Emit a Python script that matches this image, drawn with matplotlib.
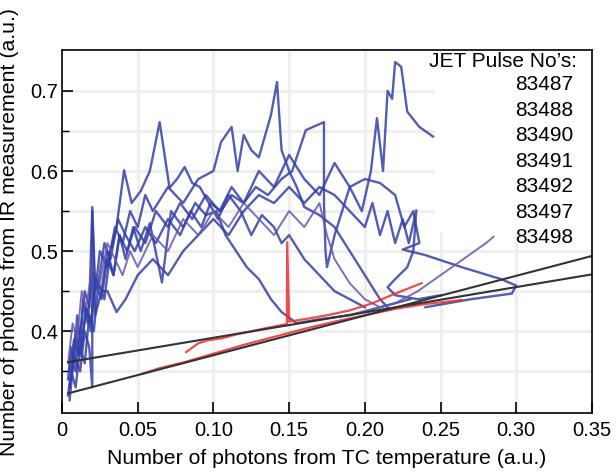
import matplotlib
matplotlib.use("Agg")
from matplotlib import pyplot as plt
from matplotlib.patches import Rectangle
from matplotlib.ticker import FixedLocator

plt.rcParams['font.family'] = ['Liberation Sans', 'DejaVu Sans']

# pulse numbers shown in the key
pulses = ["83487", "83488", "83490", "83491", "83492", "83497", "83498"]

# blue traces (IR vs TC)
t1_x = [0.005, 0.007, 0.009, 0.011, 0.013, 0.016, 0.019, 0.022, 0.026, 0.030, 0.034, 0.038,
        0.043, 0.048, 0.055, 0.062, 0.070, 0.078, 0.086, 0.095, 0.104, 0.112, 0.120, 0.130,
        0.140, 0.150, 0.160, 0.170, 0.180, 0.190, 0.198, 0.204, 0.208, 0.212, 0.215, 0.218,
        0.220, 0.224, 0.228, 0.236, 0.245]
t1_y = [0.33, 0.36, 0.35, 0.40, 0.38, 0.43, 0.41, 0.46, 0.44, 0.49, 0.47, 0.52,
        0.50, 0.53, 0.51, 0.55, 0.53, 0.56, 0.54, 0.57, 0.55, 0.58, 0.56, 0.60,
        0.58, 0.62, 0.59, 0.57, 0.61, 0.58, 0.55, 0.60, 0.666, 0.60, 0.70, 0.69,
        0.736, 0.73, 0.674, 0.655, 0.643]

t2_x = [0.004, 0.006, 0.008, 0.010, 0.012, 0.015, 0.018, 0.020, 0.022, 0.025, 0.030, 0.035,
        0.040, 0.045, 0.050, 0.055, 0.060, 0.070, 0.080, 0.090, 0.100, 0.105, 0.112, 0.116,
        0.120, 0.125, 0.130, 0.138, 0.142, 0.145, 0.150, 0.155, 0.160, 0.170, 0.180, 0.190,
        0.200, 0.210, 0.215]
t2_y = [0.34, 0.38, 0.36, 0.42, 0.39, 0.45, 0.43, 0.555, 0.45, 0.50, 0.48, 0.53,
        0.51, 0.55, 0.53, 0.57, 0.55, 0.58, 0.56, 0.59, 0.60, 0.636, 0.655, 0.60,
        0.645, 0.626, 0.617, 0.67, 0.711, 0.626, 0.60, 0.58, 0.555, 0.545, 0.53, 0.50,
        0.47, 0.44, 0.43]

t3_x = [0.004, 0.006, 0.009, 0.012, 0.015, 0.018, 0.021, 0.024, 0.028, 0.032, 0.036, 0.041,
        0.046, 0.052, 0.058, 0.0645, 0.071, 0.076, 0.081, 0.086, 0.091, 0.097, 0.103, 0.110,
        0.118, 0.125, 0.132, 0.140, 0.145, 0.150, 0.160, 0.170, 0.180, 0.190, 0.200]
t3_y = [0.32, 0.35, 0.33, 0.38, 0.36, 0.42, 0.40, 0.46, 0.44, 0.50, 0.53, 0.601,
        0.56, 0.575, 0.60, 0.661, 0.579, 0.59, 0.605, 0.585, 0.58, 0.56, 0.54, 0.57,
        0.55, 0.52, 0.545, 0.53, 0.51, 0.52, 0.49, 0.47, 0.45, 0.44, 0.43]

t4_x = [0.005, 0.008, 0.011, 0.014, 0.017, 0.020, 0.024, 0.028, 0.032, 0.037, 0.042, 0.048,
        0.055, 0.062, 0.070, 0.078, 0.085, 0.092, 0.098, 0.105, 0.112, 0.120, 0.128, 0.136,
        0.145, 0.152, 0.161, 0.173, 0.173, 0.174, 0.175, 0.180, 0.185, 0.190, 0.200, 0.210,
        0.220, 0.226, 0.232, 0.236, 0.225, 0.240, 0.264, 0.290, 0.300, 0.297, 0.270, 0.240]
t4_y = [0.35, 0.39, 0.37, 0.44, 0.41, 0.48, 0.46, 0.51, 0.49, 0.54, 0.52, 0.50,
        0.53, 0.51, 0.54, 0.52, 0.55, 0.53, 0.56, 0.55, 0.57, 0.56, 0.58, 0.57,
        0.59, 0.60, 0.651, 0.661, 0.56, 0.50, 0.48, 0.52, 0.55, 0.58, 0.59, 0.585,
        0.57, 0.53, 0.55, 0.51, 0.502, 0.495, 0.48, 0.465, 0.457, 0.447, 0.44, 0.43]

t5_x = [0.006, 0.009, 0.012, 0.016, 0.019, 0.022, 0.026, 0.030, 0.034, 0.038, 0.042, 0.047,
        0.052, 0.058, 0.066, 0.072, 0.080, 0.088, 0.095, 0.102, 0.108, 0.115, 0.122, 0.130,
        0.138, 0.145, 0.155, 0.170, 0.190, 0.210, 0.230]
t5_y = [0.34, 0.40, 0.37, 0.43, 0.40, 0.47, 0.45, 0.50, 0.47, 0.52, 0.49, 0.53,
        0.50, 0.535, 0.461, 0.55, 0.53, 0.56, 0.545, 0.55, 0.52, 0.50, 0.48, 0.465,
        0.44, 0.424, 0.41, 0.415, 0.42, 0.43, 0.44]

t6_x = [0.004, 0.007, 0.010, 0.013, 0.016, 0.020, 0.025, 0.030, 0.035, 0.040, 0.045, 0.050,
        0.060, 0.070, 0.080, 0.090, 0.100, 0.110, 0.120, 0.130, 0.140, 0.150, 0.160, 0.170,
        0.175, 0.180, 0.190, 0.200, 0.210, 0.220, 0.235, 0.250, 0.265, 0.280, 0.285]
t6_y = [0.36, 0.41, 0.39, 0.45, 0.43, 0.48, 0.46, 0.51, 0.49, 0.47, 0.50, 0.48,
        0.52, 0.50, 0.54, 0.52, 0.55, 0.53, 0.56, 0.54, 0.52, 0.55, 0.53, 0.56,
        0.52, 0.49, 0.46, 0.44, 0.43, 0.435, 0.45, 0.47, 0.49, 0.51, 0.518]

t7_x = [0.005, 0.008, 0.012, 0.015, 0.018, 0.020, 0.020, 0.022, 0.026, 0.030, 0.036, 0.042,
        0.050, 0.060, 0.070, 0.080, 0.090, 0.100, 0.110, 0.120, 0.130, 0.140, 0.150, 0.160,
        0.170, 0.180, 0.190, 0.200, 0.205, 0.210, 0.215, 0.220, 0.225, 0.229, 0.234, 0.232,
        0.228, 0.220, 0.215, 0.220, 0.235, 0.250]
t7_y = [0.314, 0.37, 0.35, 0.40, 0.38, 0.33, 0.55, 0.42, 0.45, 0.45, 0.424, 0.44,
        0.47, 0.49, 0.47, 0.50, 0.52, 0.54, 0.52, 0.55, 0.57, 0.56, 0.58, 0.56,
        0.58, 0.57, 0.55, 0.53, 0.56, 0.52, 0.55, 0.51, 0.54, 0.51, 0.551, 0.50,
        0.48, 0.465, 0.455, 0.445, 0.44, 0.445]

blue_x = [t1_x, t2_x, t3_x, t4_x, t5_x, t7_x]
blue_y = [t1_y, t2_y, t3_y, t4_y, t5_y, t7_y]

# red traces along the fits
r1_x = [0.082, 0.090, 0.097, 0.105, 0.115, 0.125, 0.135, 0.143, 0.1485, 0.1487, 0.150, 0.160,
        0.175, 0.190, 0.205, 0.220, 0.2375]
r1_y = [0.374, 0.385, 0.389, 0.391, 0.396, 0.400, 0.404, 0.407, 0.409, 0.511, 0.412, 0.415,
        0.420, 0.426, 0.435, 0.447, 0.460]
r2_x = [0.053, 0.0645, 0.080, 0.100, 0.120, 0.140, 0.160, 0.180, 0.200, 0.220, 0.240, 0.264]
r2_y = [0.347, 0.354, 0.361, 0.372, 0.383, 0.393, 0.403, 0.412, 0.420, 0.428, 0.434, 0.439]

# two straight fits
fit1_x = [0.004, 0.35]
fit1_y = [0.3225, 0.494]
fit2_x = [0.004, 0.35]
fit2_y = [0.3615, 0.471]

fig = plt.figure(figsize=(6.16, 4.75), dpi=100)
ax = fig.add_axes([62/616, 62/475, 530/616, 363/475])

for xs, ys in zip(blue_x, blue_y):
    ax.plot(xs, ys, color='#3440a6', lw=1.7, alpha=0.85, zorder=3)
ax.plot(t6_x, t6_y, color='#6656b0', lw=1.4, alpha=0.85, zorder=3)
ax.plot(r1_x, r1_y, color='#ec2e2e', lw=1.6, alpha=0.85, zorder=4)
ax.plot(r2_x, r2_y, color='#ec2e2e', lw=1.6, alpha=0.85, zorder=4)
ax.plot(fit1_x, fit1_y, color='#333333', lw=1.5, zorder=5)
ax.plot(fit2_x, fit2_y, color='#333333', lw=1.5, zorder=5)

ax.set_xlim(0, 0.35)
ax.set_ylim(0.298, 0.751)
ax.xaxis.set_major_locator(FixedLocator([0, 0.05, 0.10, 0.15, 0.20, 0.25, 0.30, 0.35]))
ax.set_xticklabels(["0", "0.05", "0.10", "0.15", "0.20", "0.25", "0.30", "0.35"])
ax.yaxis.set_major_locator(FixedLocator([0.4, 0.5, 0.6, 0.7]))
ax.set_yticklabels(["0.4", "0.5", "0.6", "0.7"])
ax.yaxis.set_minor_locator(FixedLocator([0.35, 0.45, 0.55, 0.65]))
ax.tick_params(axis='both', which='major', direction='in', length=8, width=1.2,
               labelsize=14.5, top=False, right=False)
ax.tick_params(axis='x', which='major', pad=6)
ax.tick_params(axis='y', which='major', pad=3)
ax.tick_params(axis='y', which='minor', direction='in', length=5, width=1.0)

# faint grid every 0.05
for gx in [0.05, 0.10, 0.15, 0.20, 0.25, 0.30]:
    ax.axvline(gx, color='#eeeeee', lw=2, zorder=1)
for gy in [0.35, 0.40, 0.45, 0.50, 0.55, 0.60, 0.65, 0.70]:
    ax.axhline(gy, color='#eeeeee', lw=2, zorder=1)

for s in ax.spines.values():
    s.set_linewidth(1.2)
    s.set_zorder(10)

# white panel behind the key
ax.add_patch(Rectangle((0.704, 0.5), 0.296, 0.5, transform=ax.transAxes,
                       facecolor='white', edgecolor='none', zorder=6))
ax.text(0.972, 0.967, "JET Pulse No\u2019s:", transform=ax.transAxes, ha='right',
        va='center', fontsize=15, zorder=7)
for i, p in enumerate(pulses):
    ax.text(0.964, 0.9036 - i * 0.0702, p, transform=ax.transAxes, ha='right',
            va='center', fontsize=15, zorder=7)

ax.set_xlabel("Number of photons from TC temperature (a.u.)", fontsize=15.3, labelpad=6)
ax.set_ylabel("Number of photons from IR measurement (a.u.)", fontsize=15.3)
ax.yaxis.set_label_coords(-0.081, 0.5)

fig.savefig("out.png", dpi=100)
